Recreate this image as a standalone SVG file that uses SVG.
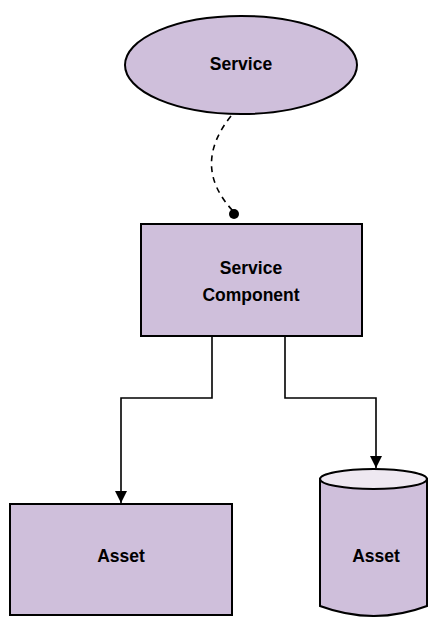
<svg xmlns="http://www.w3.org/2000/svg" width="429" height="617" viewBox="0 0 429 617">
  <style>
    .shape { fill: #cfbfdb; stroke: #000; stroke-width: 2; }
    .cap { fill: #eee8f1; stroke: #000; stroke-width: 2; }
    .label { font-family: "Liberation Sans", Arial, sans-serif; font-weight: bold; font-size: 17.5px; fill: #000; text-anchor: middle; }
    .wire { fill: none; stroke: #000; stroke-width: 1.6; }
    .dashed { fill: none; stroke: #000; stroke-width: 1.6; stroke-dasharray: 6 5; }
  </style>
  <defs>
    <marker id="arrow" viewBox="0 0 10 10" refX="10" refY="5" markerWidth="12" markerHeight="12" markerUnits="userSpaceOnUse" orient="auto">
      <path d="M0,0 L10,5 L0,10 Z" fill="#000"/>
    </marker>
  </defs>
  <rect width="429" height="617" fill="#fff"/>

  <g id="service">
    <ellipse class="shape" cx="241" cy="65" rx="116" ry="49"/>
    <text class="label" x="241" y="70">Service</text>
  </g>

  <g id="service-component">
    <rect class="shape" x="141" y="224" width="221" height="112"/>
    <text class="label" x="251" y="274">Service</text>
    <text class="label" x="251" y="301">Component</text>
  </g>

  <g id="asset-box">
    <rect class="shape" x="10" y="504" width="222" height="111"/>
    <text class="label" x="121" y="562">Asset</text>
  </g>

  <g id="asset-store">
    <path class="shape" d="M320,479 L320,606 Q374,626 427,606 L427,479 Z"/>
    <ellipse class="cap" cx="373.5" cy="479" rx="53.5" ry="10"/>
    <text class="label" x="376" y="562">Asset</text>
  </g>

  <g id="connectors">
    <path class="dashed" d="M231,116 Q191,166 233,211"/>
    <circle cx="234" cy="214" r="5" fill="#000"/>
    <path class="wire" d="M212,336 L212,398 L121,398 L121,503" marker-end="url(#arrow)"/>
    <path class="wire" d="M285,336 L285,398 L376,398 L376,468" marker-end="url(#arrow)"/>
  </g>
</svg>
